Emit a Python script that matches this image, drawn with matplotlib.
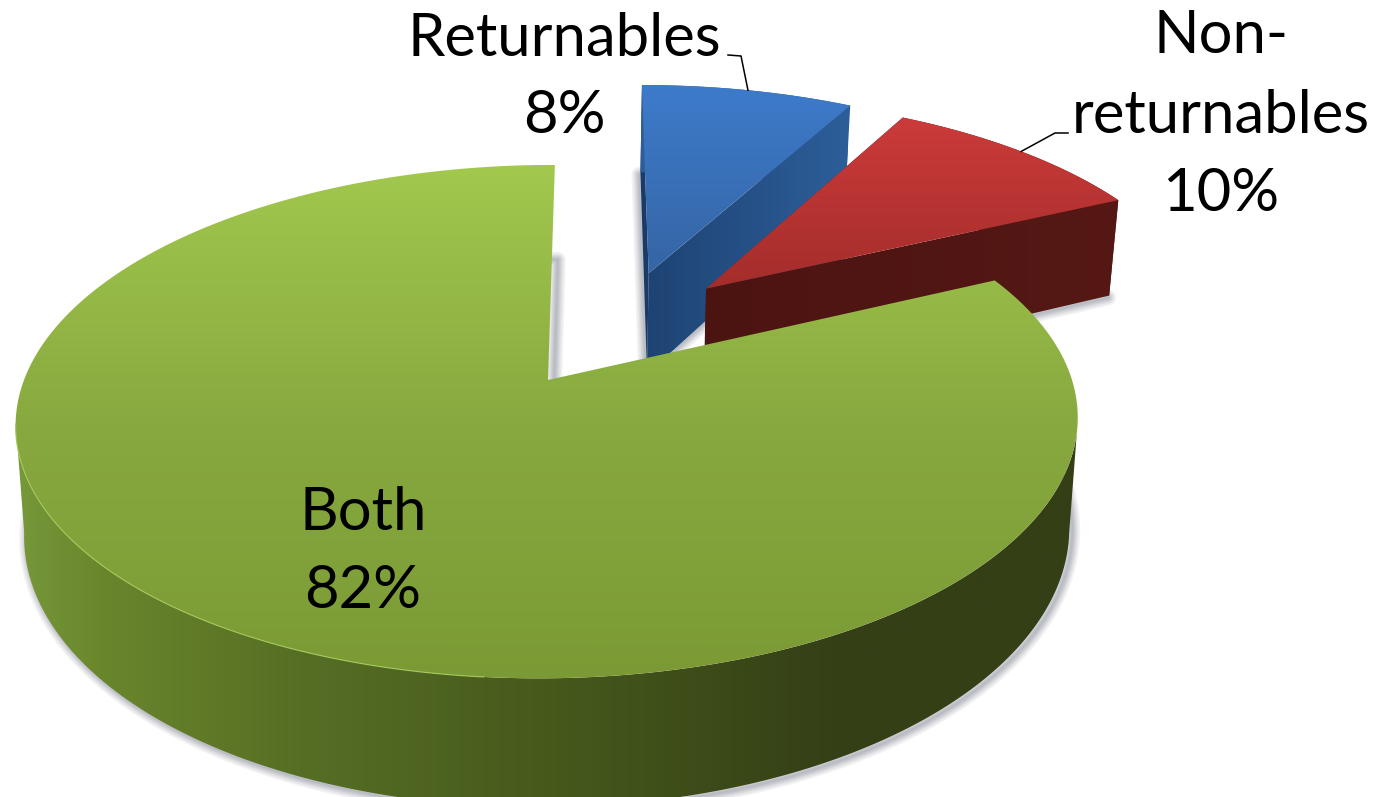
import numpy as np
import matplotlib
matplotlib.use("Agg")
import matplotlib.pyplot as plt
from matplotlib.colors import LinearSegmentedColormap
from matplotlib.patches import Polygon

# Datos del grafico
labels = ["Returnables", "Non-\nreturnables", "Both"]
values = [8, 10, 82]

# Parametros de la proyeccion (pixeles de la imagen)
cx, cy = 548, 380
A, B = 524, 250  # semiejes
k = 0.162  # perspectiva
s = 8  # inclinacion
D = 108  # espesor
m = 0.016  # reduccion de la cara inferior
explode = [0.5, 0.5, 0.0]
explode_dir = [66.5, 51, 0]  # direccion de la separacion (grados)

top_colors = [["#3d7bcb", "#3565a4"], ["#cc3b3b", "#a32d2a"], ["#a2c84e", "#88a93f", "#7b9a35"]]
top_range = [(85, 275), (115, 290), (165, 680)]
face_colors = [["#1e4373", "#2d5e99"], ["#4c1411", "#551815"]]
face_range = [(645, 848), (705, 1120)]
side_colors = ["#76993a", "#6a862c", "#566e24", "#465a1c", "#343f16", "#343f16"]
side_stops = [0.0, 0.08, 0.27, 0.5, 0.78, 1.0]

label_y = [56, 133, 530]
label_x = [564, 1221, 363]
percent_y = [133, 211, 608]


def project(theta, r, z, off):
    t = np.radians(theta)
    u = off[0] + r * np.cos(t)
    v = off[1] + r * np.sin(t)
    w = 1 + k * v
    x = cx + (A * u + s * v) / w * (1 - m * z)
    y = cy + (-B * v + D * z) / w
    return np.column_stack([np.ravel(x), np.ravel(y)])


def offset(i):
    a = np.radians(explode_dir[i])
    return (explode[i] * np.cos(a), explode[i] * np.sin(a))


def gradient_fill(ax, xy, colors, lims, horizontal, zorder):
    cmap = LinearSegmentedColormap.from_list("g", colors)
    grad = np.linspace(0, 1, 512)
    if horizontal:
        im = ax.imshow(grad[None, :], cmap=cmap, aspect="auto", zorder=zorder,
                       extent=(lims[0], lims[1], 797, 0))
    else:
        im = ax.imshow(grad[:, None], cmap=cmap, aspect="auto", zorder=zorder,
                       extent=(0, 1378, lims[1], lims[0]))
    im.set_clip_path(Polygon(xy, transform=ax.transData))


fig = plt.figure(figsize=(13.78, 7.97), dpi=100)
ax = fig.add_axes([0, 0, 1, 1])

# Angulos de cada porcion, sentido horario desde arriba
shares = np.array(values) / sum(values) * 360
starts = 90 - np.concatenate([[0], np.cumsum(shares)[:-1]])
ends = starts - shares
mids = (starts + ends) / 2

for i in range(len(values)):
    off = offset(i)
    th = np.linspace(starts[i], ends[i], 300)
    top_arc = project(th, 1, 0, off)
    bot_arc = project(th, 1, 1, off)
    tip_top = project(0, 0, 0, off)
    tip_bot = project(0, 0, 1, off)

    # Sombra difusa alrededor de la cara inferior
    shadow = np.vstack([tip_bot, bot_arc, tip_bot])
    for lw in [16, 13, 10, 8, 6, 4, 2]:
        ax.plot(shadow[:, 0] + (3 if i == 2 else -1), shadow[:, 1] + 2, color="#5a6070", alpha=0.07,
                lw=lw * 0.72, zorder=1, solid_joinstyle="round")

    base = 2 + i * 5
    # Caras laterales
    if i < 2:
        start_face = np.vstack([tip_top, top_arc[:1], bot_arc[:1], tip_bot])
        ax.add_patch(Polygon(start_face, fc="#1a3a68", ec="none", zorder=base))
        arc_side = np.vstack([top_arc, bot_arc[::-1]])
        ax.add_patch(Polygon(arc_side, fc=face_colors[i][1], ec="none", zorder=base))
        end_face = np.vstack([tip_top, top_arc[-1:], bot_arc[-1:], tip_bot])
        gradient_fill(ax, end_face, face_colors[i], face_range[i], True, base + 1)
    else:
        # Borde exterior de la porcion grande, entre los puntos mas anchos de la elipse
        widest = np.degrees(np.arcsin(k))
        side_th = np.linspace(-widest, -180 + widest, 400)
        side = np.vstack([project(side_th, 1, 0, off), project(side_th[::-1], 1, 1, off)])
        cmap = LinearSegmentedColormap.from_list("side", list(zip(side_stops, side_colors)))
        im = ax.imshow(np.linspace(0, 1, 512)[None, :], cmap=cmap, aspect="auto", zorder=base,
                       extent=(14, 1077, 797, 0))
        im.set_clip_path(Polygon(side, transform=ax.transData))

    # Cara superior
    top_face = np.vstack([tip_top, top_arc])
    gradient_fill(ax, top_face, top_colors[i], top_range[i], False, base + 2)

    if i == 2:
        rim = project(np.linspace(-170, -95, 120), 1, 0, off)
        ax.plot(rim[:, 0], rim[:, 1], color="#a9cc5c", lw=0.9, alpha=0.8, zorder=base + 3)

# Lineas guia hacia las porciones
for i, elbow in enumerate([[(728, 55), (741, 56)], [(1068, 133), (1055, 133)]]):
    end = project(mids[i], 1, 0, offset(i))
    pts = np.vstack([elbow, end])
    ax.plot(pts[:, 0], pts[:, 1], color="black", lw=1.1, zorder=30)

# Etiquetas
font = "Lato"
for i, lab in enumerate(labels):
    ax.text(label_x[i], label_y[i], lab, ha="center", va="baseline", fontsize=43, family=font,
            color="black", linespacing=1.58, zorder=31)
    ax.text(label_x[i], percent_y[i], f"{values[i]}%", ha="center", va="baseline", fontsize=43,
            family=font, color="black", zorder=31)

ax.set_xlim(0, 1378)
ax.set_ylim(797, 0)
ax.axis("off")
fig.savefig("out.png", dpi=100, facecolor="white")
